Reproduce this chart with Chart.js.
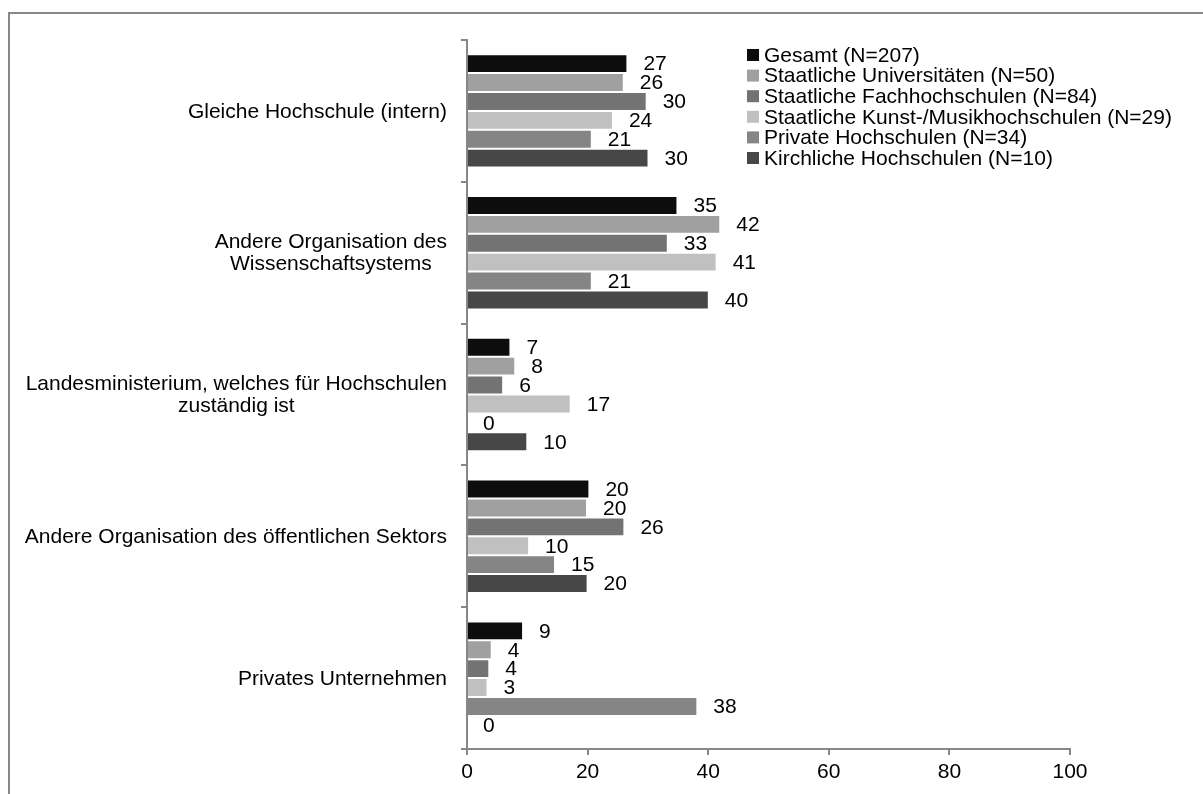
<!DOCTYPE html>
<html>
<head>
<meta charset="utf-8">
<script src="https://cdn.jsdelivr.net/npm/chart.js@4.4.1/dist/chart.umd.min.js"></script>
<style>
  html, body { margin: 0; padding: 0; background: #fff; overflow: hidden; }
  #frame {
    position: absolute; left: 8px; top: 12px; width: 1400px; height: 1000px;
    border-top: 2px solid #878787; border-left: 2px solid #878787;
  }
  #wrap { position: absolute; left: 0; top: 0; width: 1203px; height: 794px; }
</style>
</head>
<body>
<div id="frame"></div>
<div id="wrap"><canvas id="myChart" width="1203" height="794"></canvas></div>
<script>
// categories, top to bottom (line breaks as in the original)
const categories = [
  ["Gleiche Hochschule (intern)"],
  ["Andere Organisation des", "Wissenschaftsystems"],
  ["Landesministerium, welches für Hochschulen", "zuständig ist"],
  ["Andere Organisation des öffentlichen Sektors"],
  ["Privates Unternehmen"],
];

const seriesNames = [
  "Gesamt (N=207)",
  "Staatliche Universitäten (N=50)",
  "Staatliche Fachhochschulen (N=84)",
  "Staatliche Kunst-/Musikhochschulen (N=29)",
  "Private Hochschulen (N=34)",
  "Kirchliche Hochschulen (N=10)",
];
const seriesColors = ["#0d0d0d", "#a0a0a0", "#737373", "#c0c0c0", "#858585", "#474747"];

// percentages (labels show rounded values)
const gesamt     = [26.6, 34.9,  7.2, 20.3,  9.3];
const staatlUni  = [26.0, 42.0,  8.0, 19.9,  4.1];
const staatlFH   = [29.8, 33.3,  6.0, 26.1,  3.7];
const kunstMusik = [24.2, 41.4, 17.2, 10.3,  3.4];
const privat     = [20.7, 20.7,  0.0, 14.6, 38.2];
const kirchlich  = [30.1, 40.1, 10.0, 20.0,  0.0];

const xTicks = [0, 20, 40, 60, 80, 100];

const FONT = '"Liberation Sans", Arial, Helvetica, sans-serif';
const AXIS_GRAY = "#878787";

Chart.defaults.font.family = FONT;
Chart.defaults.font.size = 21;
Chart.defaults.color = "#000";

const allSeries = [gesamt, staatlUni, staatlFH, kunstMusik, privat, kirchlich];

const datasets = allSeries.map((values, i) => ({
  label: seriesNames[i],
  data: values,
  backgroundColor: seriesColors[i],
  borderColor: "rgba(255,255,255,0.4)",
  borderWidth: 1,
  categoryPercentage: 0.8,
  barPercentage: 1.0,
}));

// value labels right of each bar end
const valueLabels = {
  id: "valueLabels",
  afterDatasetsDraw(chart) {
    const ctx = chart.ctx;
    ctx.save();
    ctx.font = "21px " + FONT;
    ctx.fillStyle = "#000";
    ctx.textAlign = "left";
    ctx.textBaseline = "middle";
    chart.data.datasets.forEach((ds, di) => {
      chart.getDatasetMeta(di).data.forEach((bar, i) => {
        ctx.fillText(String(Math.round(ds.data[i])), bar.x + 16, bar.y + 1);
      });
    });
    ctx.restore();
  },
};

// category labels: block right-aligned, lines centred on each other
const categoryLabels = {
  id: "categoryLabels",
  afterDraw(chart) {
    const ctx = chart.ctx;
    const yScale = chart.scales.y;
    ctx.save();
    ctx.font = "21px " + FONT;
    ctx.fillStyle = "#000";
    ctx.textAlign = "center";
    ctx.textBaseline = "middle";
    categories.forEach((lines, i) => {
      const cy = yScale.getPixelForValue(i);
      const widest = Math.max(...lines.map((l) => ctx.measureText(l).width));
      const cx = yScale.right - 20 - widest / 2;
      lines.forEach((l, j) => {
        ctx.fillText(l, cx, cy + 1 + (j - (lines.length - 1) / 2) * 22);
      });
    });
    ctx.restore();
  },
};

// legend in the upper right of the plot
const boxLegend = {
  id: "boxLegend",
  afterDraw(chart) {
    const ctx = chart.ctx;
    ctx.save();
    ctx.font = "21px " + FONT;
    ctx.textAlign = "left";
    ctx.textBaseline = "middle";
    chart.data.datasets.forEach((ds, i) => {
      const y = 55 + i * 20.6;
      ctx.fillStyle = ds.backgroundColor;
      ctx.fillRect(747, y - 6, 12, 12);
      ctx.fillStyle = "#000";
      ctx.fillText(ds.label, 764, y + 1);
    });
    ctx.restore();
  },
};

const ctx = document.querySelector("#myChart").getContext("2d");

new Chart(ctx, {
  type: "bar",
  data: { labels: categories, datasets },
  options: {
    indexAxis: "y",
    responsive: false,
    animation: false,
    devicePixelRatio: 1,
    layout: { padding: { left: 0, top: 40, right: 133, bottom: 0 } },
    plugins: {
      legend: { display: false },
      tooltip: { enabled: false },
    },
    scales: {
      x: {
        min: 0,
        max: 100,
        afterBuildTicks: (scale) => {
          scale.ticks = xTicks.map((v) => ({ value: v }));
        },
        afterFit: (scale) => {
          scale.height = 45;
        },
        ticks: { padding: 5, color: "#000", font: { size: 21 } },
        grid: {
          drawOnChartArea: false,
          tickLength: 6,
          color: AXIS_GRAY,
          lineWidth: 2,
        },
        border: { color: AXIS_GRAY, width: 2 },
      },
      y: {
        afterFit: (scale) => {
          scale.width = 467;
        },
        ticks: { display: false },
        grid: {
          drawOnChartArea: false,
          offset: true,
          tickLength: 6,
          color: AXIS_GRAY,
          lineWidth: 2,
        },
        border: { color: AXIS_GRAY, width: 2 },
      },
    },
  },
  plugins: [valueLabels, categoryLabels, boxLegend],
});
</script>
</body>
</html>
